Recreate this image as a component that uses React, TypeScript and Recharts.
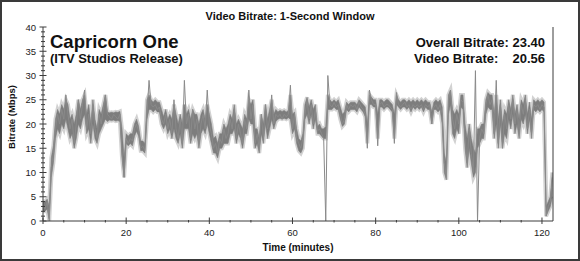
import React from 'react';
import { ComposedChart, Line, Area, XAxis, YAxis } from 'recharts';

// one sample every half minute (Mbps)
const STEP = 0.5;

// per-sample trace, with the spikes and drop-outs
const bitrate = [
  3, 2.5, 4, 0.5, 11, 14, 19, 22, 20, 23,
  21, 26, 22, 19, 21, 16, 20, 25, 21, 24,
  27, 19, 22, 18, 24, 19, 17, 22, 20, 23,
  26, 22, 21.5, 21, 22, 21.5, 21, 22, 14, 9,
  17, 16, 17, 16.5, 19, 20, 18.5, 15, 15.5, 14.5,
  22, 29, 24, 23.5, 24, 23, 23.5, 21, 20, 22,
  19, 21, 18, 25, 19, 17, 21, 16, 29, 20,
  22, 17, 23, 19, 21, 16, 20, 22, 19, 27,
  20, 18, 15, 16, 14, 17, 16, 19, 17, 18,
  21, 19, 23, 17, 20, 18, 16, 21, 19, 27,
  21, 24, 16, 18, 15, 22, 17, 24, 19, 21,
  26, 20, 22, 21.5, 22, 21, 22, 21.5, 22, 28,
  19, 22, 17, 16, 15, 17, 22, 25, 21, 24,
  20, 23, 18.5, 19, 18, 17, 0, 30, 24, 23.5,
  24.5, 23.5, 24, 22, 20, 21, 24, 23, 24, 23.5,
  24, 23, 24.5, 23.5, 23, 22, 15, 27, 25, 24,
  24, 15.5, 24, 24.5, 23.5, 24, 24, 23.5, 23, 16,
  26.5, 24, 23.5, 24, 24.5, 23.5, 24, 23, 24, 23.5,
  24, 23.5, 24, 23, 24, 23.5, 24, 20, 23.5, 24,
  23, 24, 22, 12, 9, 25, 27, 21, 19, 22,
  20, 25, 24.5, 17, 12, 19, 14, 10, 31, 0,
  17, 19, 18, 24, 26, 24, 25, 18, 29, 16,
  24, 15, 22, 19, 24, 21, 25, 20, 23, 18,
  24, 22, 25, 19, 23, 18, 24, 23.5, 24, 23,
  24, 23.5, 1, 3, 4, 9,
];

// low / high edge of the dense dark band
const bandLow = [
  2, 2, 2.5, 0, 9, 12, 17, 19, 18, 20,
  19, 21, 19, 17, 18, 15, 17, 20, 19, 21,
  22, 18, 19, 16, 20, 17, 16, 18, 19, 20,
  21, 20.5, 20.8, 20.7, 20.8, 20.6, 20.7, 20.5, 13, 9,
  16, 15.5, 16, 15.5, 17.5, 18.5, 17.5, 14.5, 14.5, 14,
  21, 23, 23, 22.5, 23, 22.5, 22.5, 20, 19, 20,
  18, 19, 17, 19, 17, 16, 18, 15, 19, 19,
  19, 16, 18, 17, 18, 15, 18, 19, 18, 20,
  18, 16, 14, 14, 13, 15, 15, 16, 16, 16,
  18, 18, 19, 16, 18, 17, 15, 18, 18, 21,
  20, 20, 15, 16, 14, 18, 16, 20, 17, 19,
  21, 19, 20.5, 21, 21.2, 21, 21.2, 21, 21.3, 21,
  18, 19, 16, 14.5, 14, 15, 21, 22, 20, 22,
  19, 21, 18, 18, 17.5, 17, 17, 23, 23, 23,
  23.5, 23, 23, 21, 19.5, 20, 23, 22.5, 23, 23,
  23, 22.5, 23.5, 23, 22.5, 21.5, 16, 24, 24, 23.5,
  23.5, 17, 23.5, 23.5, 23, 23.5, 23.5, 23, 22.5, 17,
  24, 23.5, 23, 23.5, 23.5, 23, 23.5, 22.5, 23.5, 23,
  23.5, 23, 23.5, 22.5, 23.5, 23, 23, 20, 23, 23,
  22.5, 23, 20, 10, 8.5, 22, 24, 18, 17, 19,
  18, 23.5, 23, 15, 11, 15, 12, 9, 10, 15,
  16, 17, 17, 22, 23.5, 23, 23, 17, 20, 15,
  20, 15, 18, 17, 21, 19, 22, 18, 20, 17,
  21, 20, 22, 18, 21, 17, 23, 22.5, 23, 22.5,
  23, 22.5, 1, 2, 3, 5,
];
const bandHigh = [
  4, 4, 4.5, 3, 13, 15.5, 21, 23, 22, 24,
  23, 25, 24, 21, 22, 20, 22, 25, 23, 25,
  26, 22, 24, 20, 25, 21, 19, 23, 22, 24,
  26, 22.5, 22.3, 22.4, 22.3, 22.5, 22.4, 22.6, 19, 13,
  18, 17.5, 18, 18, 20, 21, 19.5, 16.5, 16.5, 16,
  25, 26, 25, 24.5, 25, 24.5, 24.5, 23, 21.5, 23,
  21, 22, 21, 24, 22, 20, 22, 20, 24, 22,
  23, 21, 23, 22, 22, 20, 22, 23, 21, 24,
  22, 20, 17, 17.5, 16, 18, 18, 20, 19, 20,
  22, 21, 24, 20, 21, 20, 19, 22, 21, 25,
  24, 25, 19, 19, 17, 22, 20, 24, 21, 23,
  25, 22, 23, 22.5, 22.8, 22.6, 22.8, 22.5, 22.8, 26,
  22, 22.5, 19, 17, 16.5, 18, 24, 25.5, 23.5, 25,
  23, 24, 19.5, 20, 19, 19, 19.5, 26, 25, 24.5,
  25, 24.5, 25, 23.5, 22, 22.5, 24.5, 24, 24.5, 24.5,
  24.5, 24, 25, 24.5, 24, 23.5, 20, 26, 25.5, 25,
  25, 22, 25, 25, 24.5, 25, 25, 24.5, 24, 22,
  26, 25, 24.5, 25, 25, 24.5, 25, 24.5, 25, 24.5,
  25, 24.5, 25, 24.5, 25, 24.5, 24.5, 22.5, 24.5, 25,
  24.5, 25, 23.5, 14, 12, 26, 27, 23, 22, 23,
  22, 26, 26, 20, 17, 20, 17, 15, 14, 19,
  19, 20, 20, 25, 26.5, 26, 26, 22, 26, 21,
  25, 20, 23, 22, 25, 23, 26, 22, 24, 21,
  25, 24, 26, 22, 24.5, 21, 25, 24.5, 25, 24.5,
  25, 24.5, 3, 4, 5, 10,
];

const yTicks = [
  0, 1, 2, 3, 4, 5, 6, 7, 8, 9, 10, 11, 12, 13, 14, 15, 16, 17, 18, 19, 20,
  21, 22, 23, 24, 25, 26, 27, 28, 29, 30, 31, 32, 33, 34, 35, 36, 37, 38, 39, 40,
];
const xTicks = [0, 5, 10, 15, 20, 25, 30, 35, 40, 45, 50, 55, 60, 65, 70, 75, 80, 85, 90, 95, 100, 105, 110, 115, 120];

const data = bitrate.map((v, i) => ({ t: i * STEP, v, band: [bandLow[i], bandHigh[i]] }));

const AXIS = '#3c3c3c';
const LABEL = '#222';

const LeftTick = (props: any) => {
  const { x, y, payload } = props;
  const major = payload.value % 5 === 0;
  const l = major ? 3.5 : 2;
  return (
    <g>
      <line x1={x - l} x2={x + l} y1={y} y2={y} stroke={AXIS} />
      {major && (
        <text x={x - 7} y={y + 3.5} textAnchor="end" fontSize={9.5} fill={LABEL}>
          {payload.value}
        </text>
      )}
    </g>
  );
};

const RightTick = (props: any) => {
  const { x, y, payload } = props;
  const major = payload.value % 5 === 0;
  const l = major ? 3.5 : 2;
  return (
    <g>
      <line x1={x - l} x2={x + l} y1={y} y2={y} stroke={AXIS} />
      {major && (
        <text x={x + 6} y={y + 3.5} textAnchor="start" fontSize={9.5} fill={LABEL}>
          {payload.value}
        </text>
      )}
    </g>
  );
};

const BottomTick = (props: any) => {
  const { x, y, payload } = props;
  const major = payload.value % 20 === 0;
  return (
    <g>
      <line x1={x} x2={x} y1={major ? y - 3.5 : y - 1} y2={major ? y + 3 : y + 1.5} stroke={AXIS} />
      {major && (
        <text x={x} y={y + 15} textAnchor="middle" fontSize={9.5} fill={LABEL}>
          {payload.value}
        </text>
      )}
    </g>
  );
};

const TopTick = (props: any) => {
  const { x, y, payload } = props;
  const major = payload.value % 20 === 0;
  return <line x1={x} x2={x} y1={major ? y - 3 : y - 1} y2={major ? y + 3.5 : y + 1.5} stroke={AXIS} />;
};

export default function App() {
  return (
    <div style={{ position: 'absolute', left: 0, top: 0, width: 580, height: 261, background: '#fff', fontFamily: 'Arial, "Liberation Sans", sans-serif' }}>
      <ComposedChart width={580} height={261} data={data} margin={{ top: 27, right: 0, bottom: 0, left: 0 }}>
        <XAxis
          dataKey="t"
          type="number"
          domain={[0, 122.65]}
          ticks={xTicks}
          interval={0}
          height={40}
          tickSize={0}
          tickMargin={0}
          stroke={AXIS}
          tick={<BottomTick />}
          allowDataOverflow
        />
        <XAxis
          xAxisId="top"
          orientation="top"
          dataKey="t"
          type="number"
          domain={[0, 122.65]}
          ticks={xTicks}
          interval={0}
          height={0}
          tickSize={0}
          tickMargin={0}
          stroke={AXIS}
          tick={<TopTick />}
        />
        <YAxis
          type="number"
          domain={[0, 40]}
          ticks={yTicks}
          interval={0}
          width={43}
          tickSize={0}
          tickMargin={0}
          stroke={AXIS}
          tick={<LeftTick />}
        />
        <YAxis
          yAxisId="right"
          orientation="right"
          type="number"
          domain={[0, 40]}
          ticks={yTicks}
          interval={0}
          width={27}
          tickSize={0}
          tickMargin={0}
          stroke={AXIS}
          tick={<RightTick />}
        />
        <Area dataKey="band" type="linear" fill="none" stroke="#d2d2d2" strokeWidth={4} dot={false} isAnimationActive={false} />
        <Area dataKey="band" type="linear" fill="#7d7d7d" fillOpacity={1} stroke="#7d7d7d" strokeWidth={0.6} dot={false} isAnimationActive={false} />
        <Line dataKey="v" type="linear" stroke="#8a8a8a" strokeWidth={1} dot={false} isAnimationActive={false} />
      </ComposedChart>
      <svg width={580} height={261} style={{ position: 'absolute', left: 0, top: 0, pointerEvents: 'none' }}>
        <rect x={1} y={1} width={578} height={259} fill="none" stroke="#3a3a3a" strokeWidth={2} />
        <text x={290} y={20} textAnchor="middle" fontSize={11} fontWeight="bold" fill="#111">
          Video Bitrate: 1-Second Window
        </text>
        <text x={50} y={47.5} fontSize={18.5} fontWeight="bold" fill="#111">Capricorn One</text>
        <text x={50} y={62.5} fontSize={13} fontWeight="bold" fill="#111">(ITV Studios Release)</text>
        <text x={545} y={47} textAnchor="end" fontSize={13} fontWeight="bold" fill="#111">Overall Bitrate: 23.40</text>
        <text x={414} y={62.5} fontSize={13} fontWeight="bold" fill="#111">Video Bitrate:</text>
        <text x={545} y={62.5} textAnchor="end" fontSize={13} fontWeight="bold" fill="#111">20.56</text>
        <text x={298} y={251} textAnchor="middle" fontSize={10} fontWeight="bold" fill="#111">Time (minutes)</text>
        <text transform="translate(15,117) rotate(-90)" textAnchor="middle" fontSize={9.5} fontWeight="bold" fill="#111">
          Bitrate (Mbps)
        </text>
      </svg>
    </div>
  );
}
